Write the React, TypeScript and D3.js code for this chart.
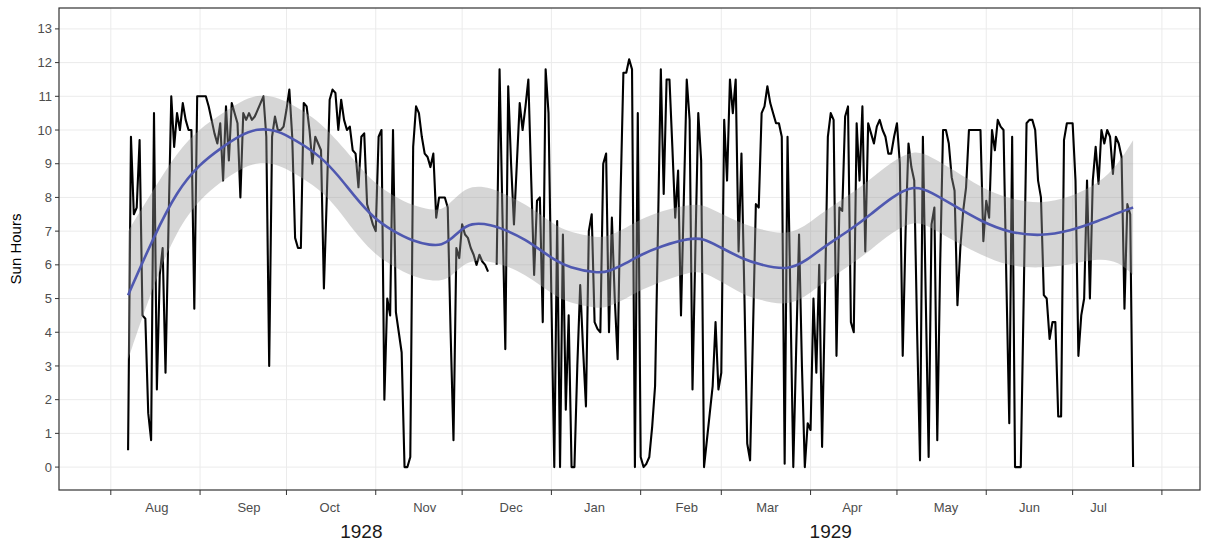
import React from "react";
import * as d3 from "d3";

const WIDTH = 1212;
const HEIGHT = 549;
const DAY_MS = 86400000;

// Daily sunshine hours, one value per day from the series start (null = missing day)
const seriesStart = Date.UTC(1928, 7, 7);
const sunHours: (number | null)[] = [
  0.5, 9.8, 7.5, 7.7, 9.7, 4.5, 4.4, 1.6, 0.8, 10.5,
  2.3, 5.7, 6.5, 2.8, 7.0, 11.0, 9.5, 10.5, 10.0, 10.8,
  10.3, 10.0, 10.0, 4.7, 11.0, 11.0, 11.0, 11.0, 10.7, 10.3,
  9.9, 9.6, 10.2, 8.5, 10.7, 9.1, 10.8, 10.5, 10.2, 8.0,
  10.5, 10.3, 10.5, 10.3, 10.4, 10.6, 10.8, 11.0, 9.8, 3.0,
  9.8, 10.4, 10.0, 10.0, 10.1, 10.6, 11.2, 9.8, 6.8, 6.5,
  6.5, 10.8, 10.7, 10.0, 9.0, 9.8, 9.6, 9.4, 5.3, 8.0,
  10.9, 11.2, 11.1, 10.0, 10.9, 10.3, 10.0, 10.1, 9.4, 9.3,
  8.3, 9.8, 9.9, 7.8, 7.5, 7.2, 7.0, 9.8, 10.0, 2.0,
  5.0, 4.5, 10.0, 4.6, 4.0, 3.4, 0.0, 0.0, 0.3, 9.5,
  10.7, 10.5, 9.8, 9.3, 9.2, 8.9, 9.3, 7.4, 8.0, 8.0,
  8.0, 7.7, 4.0, 0.8, 6.5, 6.2, 7.2, 6.9, 6.8, 6.5,
  6.3, 6.0, 6.3, 6.1, 6.0, 5.8, null, null, 6.0, 11.8,
  7.5, 3.5, 11.3, 9.0, 7.2, 9.0, 10.8, 10.0, 10.7, 11.5,
  8.5, 5.7, 7.9, 8.0, 4.3, 11.8, 10.5, 5.0, 0.0, 7.3,
  0.0, 6.9, 1.7, 4.5, 0.0, 0.0, 3.0, 5.4, 3.5, 1.8,
  7.0, 7.5, 4.3, 4.1, 4.0, 9.0, 9.3, 4.0, 7.4, 5.0,
  3.2, 8.0, 11.7, 11.7, 12.1, 11.8, 0.0, 10.5, 0.3, 0.0,
  0.1, 0.3, 1.2, 2.4, 7.0, 11.8, 8.1, 11.5, 11.5, 9.5,
  7.4, 8.8, 4.5, 8.0, 11.5, 10.3, 2.3, 6.5, 10.5, 9.1,
  0.0, 0.8, 1.6, 2.4, 4.3, 2.3, 2.8, 10.3, 8.5, 11.5,
  10.5, 11.5, 6.4, 9.3, 5.2, 0.7, 0.2, 4.0, 7.8, 7.7,
  10.5, 10.7, 11.3, 10.8, 10.5, 10.2, 10.2, 9.8, 0.1, 9.8,
  5.0, 0.0, 3.5, 6.9, 3.0, 0.0, 1.3, 1.1, 5.0, 2.8,
  6.0, 0.6, 5.0, 9.8, 10.5, 10.3, 3.3, 7.7, 7.6, 10.4,
  10.7, 4.3, 4.0, 10.2, 8.5, 10.7, 6.4, 10.2, 9.9, 9.6,
  10.1, 10.3, 10.0, 9.8, 9.3, 9.3, 9.8, 10.2, 9.0, 3.3,
  7.0, 9.6, 8.9, 8.5, 4.0, 0.2, 9.8, 5.0, 0.3, 7.2,
  7.7, 0.8, 6.0, 10.0, 10.0, 9.6, 8.6, 8.2, 4.8, 6.5,
  7.6, 8.3, 10.0, 10.0, 10.0, 10.0, 10.0, 6.7, 7.9, 7.4,
  10.0, 9.4, 10.3, 10.1, 10.0, 5.5, 1.3, 9.8, 0.0, 0.0,
  0.0, 5.0, 10.2, 10.3, 10.3, 10.0, 8.5, 8.0, 5.1, 5.0,
  3.8, 4.3, 4.3, 1.5, 1.5, 9.7, 10.2, 10.2, 10.2, 8.5,
  3.3, 4.5, 5.0, 8.5, 5.0, 8.5, 9.5, 8.4, 10.0, 9.6,
  10.0, 9.8, 8.7, 9.8, 9.6, 9.2, 4.7, 7.8, 7.5, 0.0,
];

// Smoothed trend (days from series start), fitted value and half-width of the confidence band
const smoothDay = [
  0, 9, 17, 25, 32, 39, 45, 51, 56, 61, 67, 73, 78, 85, 92, 99, 105, 109, 112, 115,
  119, 126, 132, 138, 143, 148, 153, 163, 167, 173, 178, 185, 195, 200, 205, 214, 219, 229, 236, 241,
  251, 258, 265, 273, 279, 287, 296, 306, 317, 327, 337, 344, 349,
];
const smoothFit = [
  5.1, 6.85, 8.2, 9.0, 9.45, 9.85, 10.05, 10.0, 9.8, 9.55, 9.2, 8.65, 8.1, 7.4, 7.0, 6.7, 6.58, 6.58, 6.75, 7.0,
  7.25, 7.2, 7.0, 6.75, 6.45, 6.15, 5.92, 5.75, 5.8, 6.05, 6.3, 6.55, 6.8, 6.78, 6.55, 6.15, 6.02, 5.82, 6.15, 6.5,
  7.05, 7.5, 8.0, 8.38, 8.15, 7.75, 7.3, 6.95, 6.85, 7.0, 7.3, 7.55, 7.7,
];
const smoothSe = [
  1.9, 1.4, 1.15, 1.05, 1.0, 1.0, 1.0, 1.0, 1.0, 1.0, 1.0, 1.0, 1.05, 1.05, 1.05, 1.05, 1.05, 1.05, 1.1, 1.1,
  1.1, 1.1, 1.05, 1.05, 1.05, 1.05, 1.05, 1.05, 1.05, 1.05, 1.05, 1.05, 1.0, 1.0, 1.0, 1.05, 1.05, 1.05, 1.05, 1.05,
  1.05, 1.05, 1.05, 1.05, 1.05, 1.05, 1.0, 1.0, 0.95, 1.0, 1.1, 1.45, 2.0,
];

const yTicks = [0, 1, 2, 3, 4, 5, 6, 7, 8, 9, 10, 11, 12, 13];

const monthTicks = [
  Date.UTC(1928, 7, 1), Date.UTC(1928, 8, 1), Date.UTC(1928, 9, 1), Date.UTC(1928, 10, 1),
  Date.UTC(1928, 11, 1), Date.UTC(1929, 0, 1), Date.UTC(1929, 1, 1), Date.UTC(1929, 2, 1),
  Date.UTC(1929, 3, 1), Date.UTC(1929, 4, 1), Date.UTC(1929, 5, 1), Date.UTC(1929, 6, 1),
  Date.UTC(1929, 7, 1),
];
const monthLabels = ["Aug", "Sep", "Oct", "Nov", "Dec", "Jan", "Feb", "Mar", "Apr", "May", "Jun", "Jul"];
const monthLabelDates = [
  Date.UTC(1928, 7, 17), Date.UTC(1928, 8, 18), Date.UTC(1928, 9, 16), Date.UTC(1928, 10, 18),
  Date.UTC(1928, 11, 18), Date.UTC(1929, 0, 16), Date.UTC(1929, 1, 17), Date.UTC(1929, 2, 17),
  Date.UTC(1929, 3, 15, 12), Date.UTC(1929, 4, 18), Date.UTC(1929, 5, 16), Date.UTC(1929, 6, 10),
];
const yearLabels = ["1928", "1929"];
const yearLabelDates = [Date.UTC(1928, 9, 27), Date.UTC(1929, 3, 8)];

const FONT = "'Liberation Sans', Arial, Helvetica, sans-serif";

export default function App() {
  const panel = { left: 59, right: 1200, top: 8, bottom: 490 };

  const x = d3
    .scaleUtc()
    .domain([new Date(Date.UTC(1928, 7, 1)), new Date(Date.UTC(1929, 7, 1))])
    .range([110.8, 1161.9]);
  const y = d3.scaleLinear().domain([-0.68, 13.62]).range([panel.bottom, panel.top]);

  const dayDate = (d: number) => new Date(seriesStart + d * DAY_MS);

  const points = sunHours.map((v, i) => ({ date: dayDate(i), value: v }));
  const linePath =
    d3
      .line<{ date: Date; value: number | null }>()
      .defined((d) => d.value !== null)
      .x((d) => x(d.date))
      .y((d) => y(d.value as number))(points) || "";

  const smooth = smoothDay.map((d, i) => ({
    date: dayDate(d),
    fit: smoothFit[i],
    lo: smoothFit[i] - smoothSe[i],
    hi: smoothFit[i] + smoothSe[i],
  }));
  const ribbonPath =
    d3
      .area<(typeof smooth)[number]>()
      .x((d) => x(d.date))
      .y0((d) => y(d.lo))
      .y1((d) => y(d.hi))
      .curve(d3.curveBasis)(smooth) || "";
  const fitPath =
    d3
      .line<(typeof smooth)[number]>()
      .x((d) => x(d.date))
      .y((d) => y(d.fit))
      .curve(d3.curveBasis)(smooth) || "";

  const midY = (panel.top + panel.bottom) / 2;

  return (
    <svg
      width={WIDTH}
      height={HEIGHT}
      style={{ position: "absolute", left: 0, top: 0, background: "#fff" }}
      fontFamily={FONT}
    >
      <defs>
        <clipPath id="panel-clip">
          <rect x={panel.left} y={panel.top} width={panel.right - panel.left} height={panel.bottom - panel.top} />
        </clipPath>
      </defs>
      <rect x={panel.left} y={panel.top} width={panel.right - panel.left} height={panel.bottom - panel.top} fill="#fff" />

      {/* grid */}
      <g stroke="#ebebeb" strokeWidth={1}>
        {yTicks.map((t) => (
          <line key={"gy" + t} x1={panel.left} x2={panel.right} y1={y(t)} y2={y(t)} />
        ))}
        {monthTicks.map((t) => (
          <line key={"gx" + t} x1={x(new Date(t))} x2={x(new Date(t))} y1={panel.top} y2={panel.bottom} />
        ))}
      </g>

      <g clipPath="url(#panel-clip)">
        <path d={linePath} fill="none" stroke="#000" strokeWidth={2.1} strokeLinejoin="round" />
        <path d={ribbonPath} fill="#999999" fillOpacity={0.4} stroke="none" />
        <path d={fitPath} fill="none" stroke="#4f58b0" strokeWidth={2.6} />
      </g>

      <rect
        x={panel.left}
        y={panel.top}
        width={panel.right - panel.left}
        height={panel.bottom - panel.top}
        fill="none"
        stroke="#333"
        strokeWidth={1.2}
      />

      {/* y axis */}
      <g>
        {yTicks.map((t) => (
          <g key={"ty" + t}>
            <line x1={panel.left - 4} x2={panel.left} y1={y(t)} y2={y(t)} stroke="#333" strokeWidth={1} />
            <text x={panel.left - 7} y={y(t)} dy="0.35em" textAnchor="end" fontSize={13} fill="#4d4d4d">
              {t}
            </text>
          </g>
        ))}
        <text
          transform={`translate(${21},${midY}) rotate(-90)`}
          textAnchor="middle"
          fontSize={15}
          fill="#000"
        >
          Sun Hours
        </text>
      </g>

      {/* x axis */}
      <g>
        {monthTicks.map((t) => (
          <line
            key={"tx" + t}
            x1={x(new Date(t))}
            x2={x(new Date(t))}
            y1={panel.bottom}
            y2={panel.bottom + 5}
            stroke="#333"
            strokeWidth={1}
          />
        ))}
        {monthLabels.map((m, i) => (
          <text
            key={m}
            x={x(new Date(monthLabelDates[i]))}
            y={512}
            textAnchor="middle"
            fontSize={13}
            fill="#4d4d4d"
          >
            {m}
          </text>
        ))}
        {yearLabels.map((yl, i) => (
          <text
            key={yl}
            x={x(new Date(yearLabelDates[i]))}
            y={538}
            textAnchor="middle"
            fontSize={19}
            fill="#1a1a1a"
          >
            {yl}
          </text>
        ))}
      </g>
    </svg>
  );
}
